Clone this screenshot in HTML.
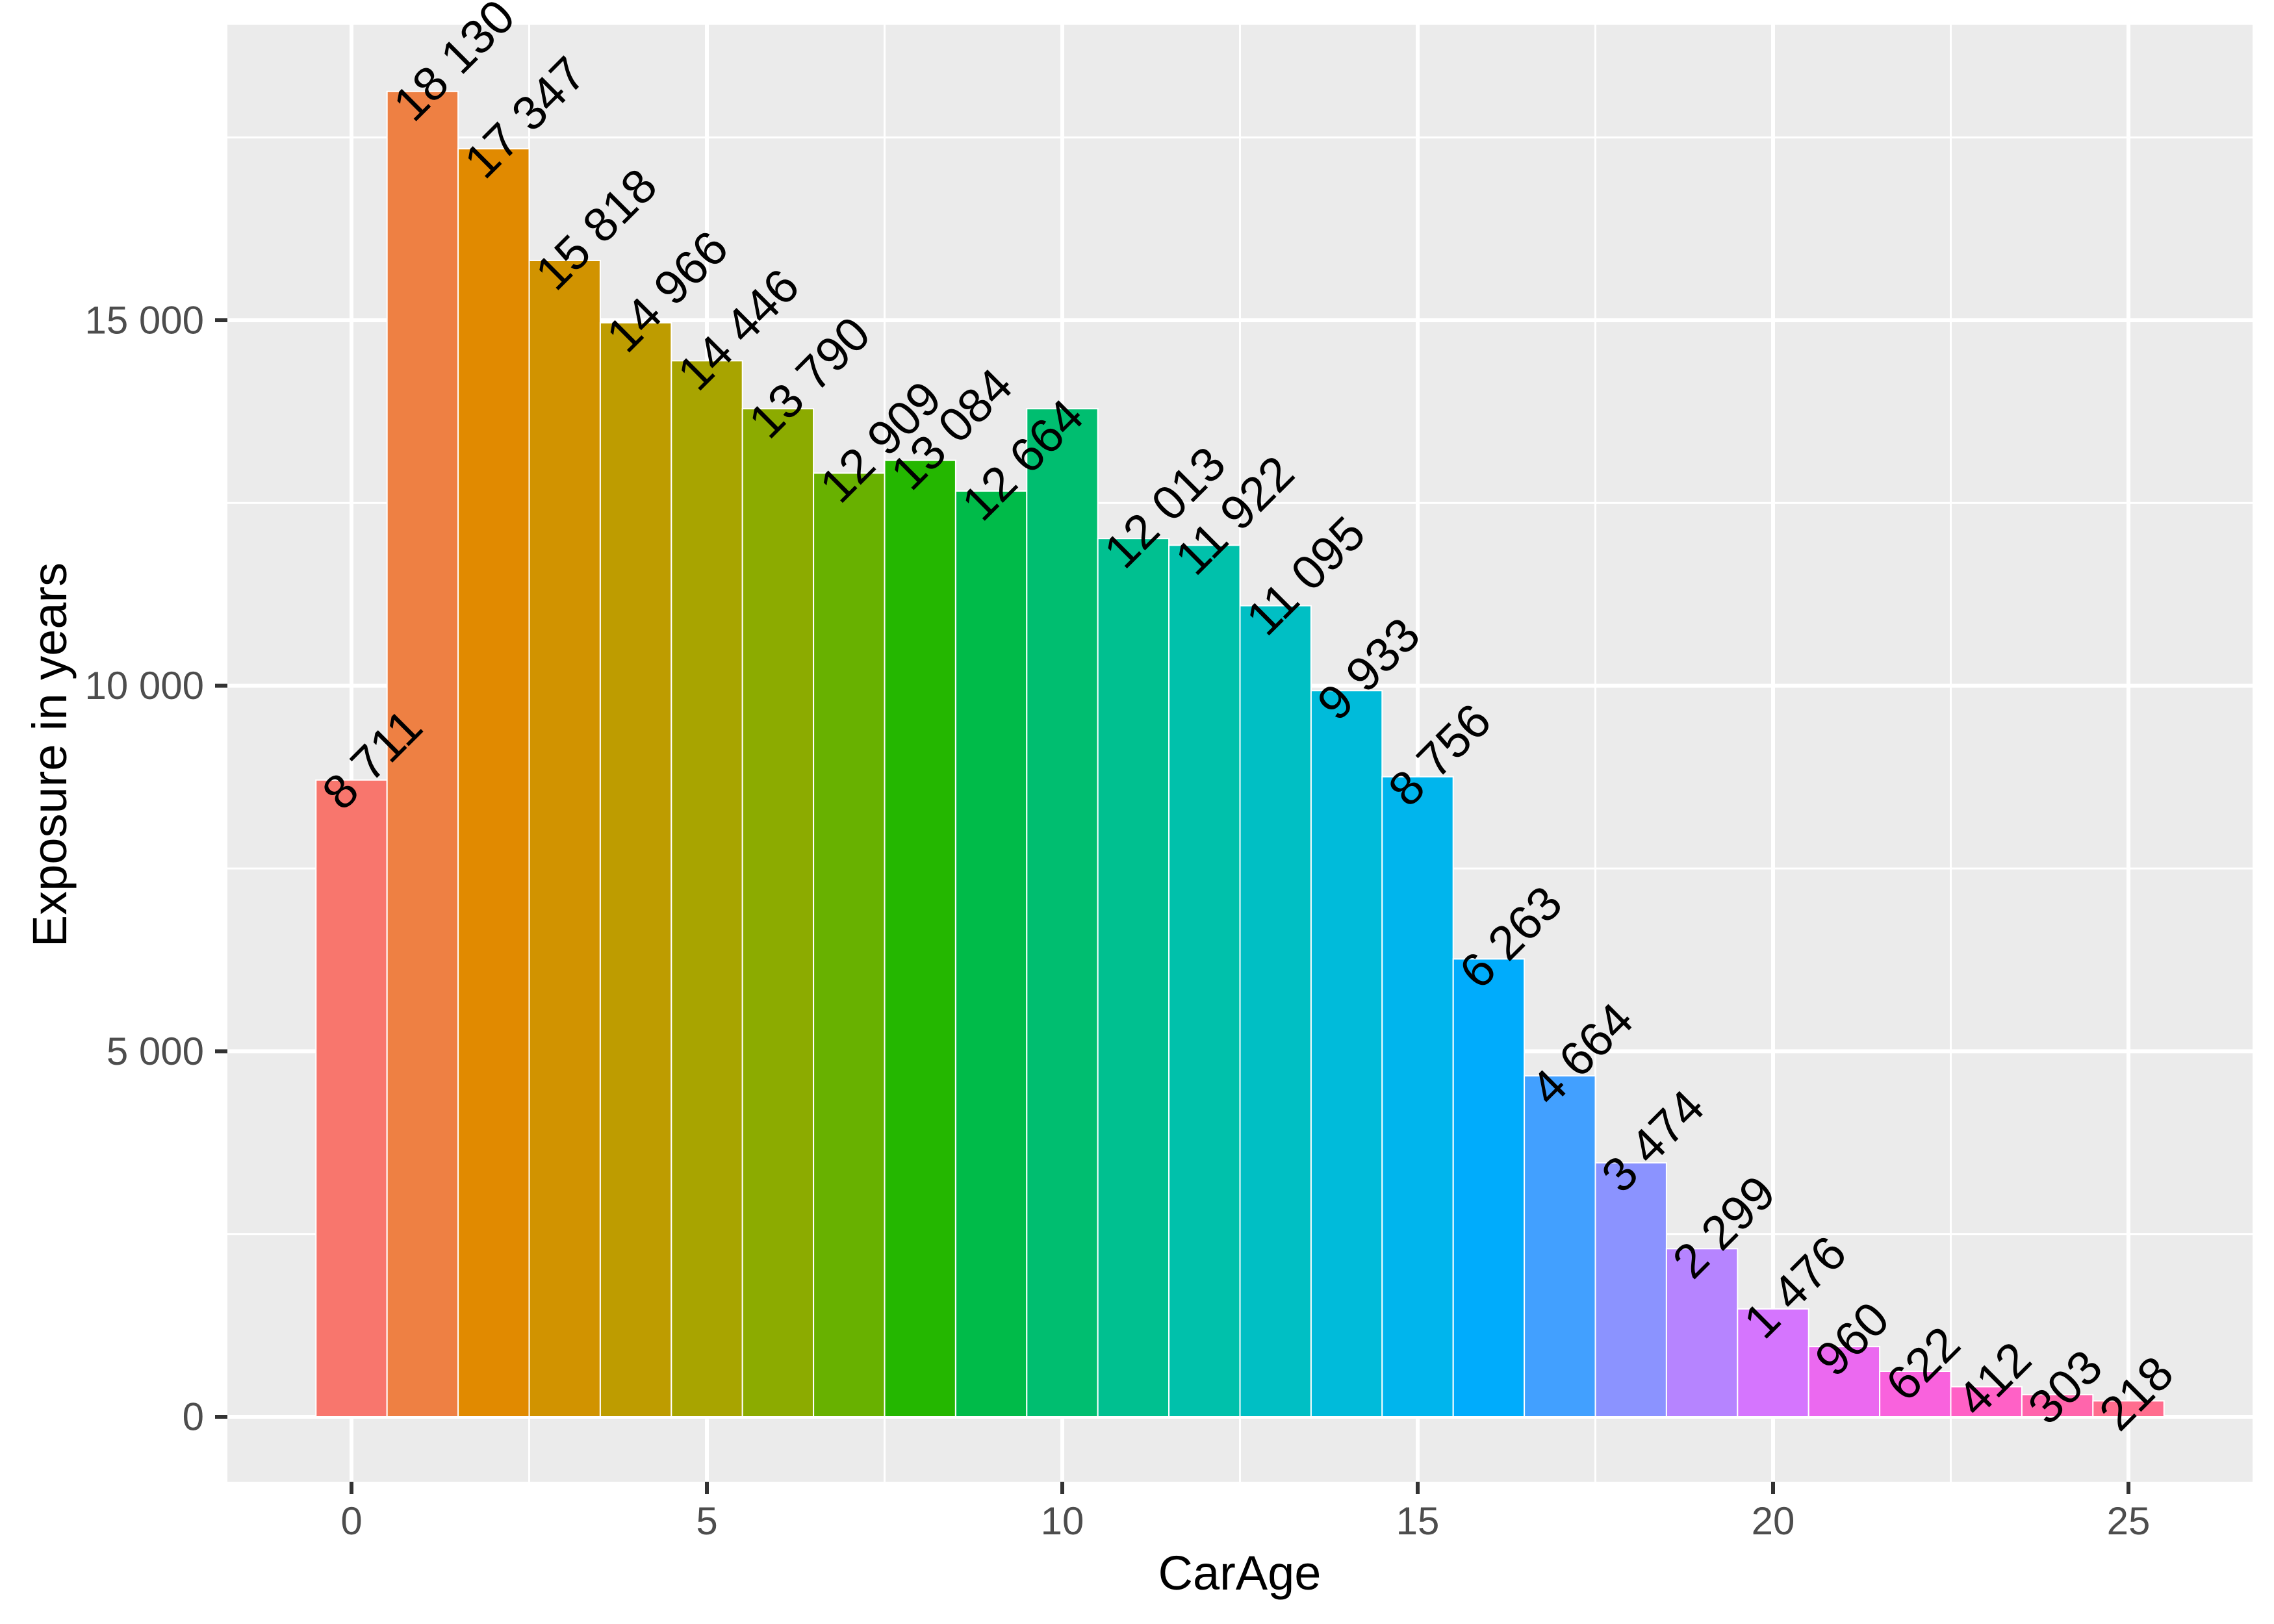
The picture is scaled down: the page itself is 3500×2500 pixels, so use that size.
<!DOCTYPE html>
<html><head><meta charset="utf-8"><style>
html,body{margin:0;padding:0;background:#fff;}
svg{display:block;font-family:"Liberation Sans",Arial,sans-serif;}
</style></head><body>
<svg id="chart" width="3500" height="2500" viewBox="0 0 3500 2500" xmlns="http://www.w3.org/2000/svg">
<rect x="0" y="0" width="3500" height="2500" fill="#ffffff"/>
<rect x="350" y="38" width="3117" height="2243" fill="#ebebeb"/>
<g id="grid"></g><g id="bars"></g><g id="labels"></g><g id="axes"></g>
<text x="1908" y="2447" font-size="74" text-anchor="middle" fill="#000">CarAge</text>
<text x="0" y="0" font-size="74" text-anchor="middle" fill="#000" transform="translate(102,1162) rotate(-90)">Exposure in years</text>
</svg>
<script>
const categories = [0,1,2,3,4,5,6,7,8,9,10,11,12,13,14,15,16,17,18,19,20,21,22,23,24,25];
const exposure = [8711,18130,17347,15818,14966,14446,13790,12909,13084,12664,13790,12013,11922,11095,9933,8756,6263,4664,3474,2299,1476,960,622,412,303,218];
const valueLabels = ["8 711","18 130","17 347","15 818","14 966","14 446","13 790","12 909","13 084","12 664","","12 013","11 922","11 095","9 933","8 756","6 263","4 664","3 474","2 299","1 476","960","622","412","303","218"];
const yTicks = [0,5000,10000,15000];
const yTickLabels = ["0","5 000","10 000","15 000"];
const yMinor = [2500,7500,12500,17500];
const xTicks = [0,5,10,15,20,25];
const xMinor = [2.5,7.5,12.5,17.5,22.5];

const PL=350, PR=3467, PT=38, PB=2281;
const xs = v => 541 + v*(3276-541)/25;
const ys = v => 2181 - v*(2181-493)/15000;
const NS="http://www.w3.org/2000/svg";
function mk(tag, attrs, parent){const e=document.createElementNS(NS,tag);for(const k in attrs)e.setAttribute(k,attrs[k]);parent.appendChild(e);return e;}

function hcl(h,c,l){
  const hr=h*Math.PI/180, L=l, u0=c*Math.cos(hr), v0=c*Math.sin(hr);
  const Xn=95.047,Yn=100,Zn=108.883;
  const un=4*Xn/(Xn+15*Yn+3*Zn), vn=9*Yn/(Xn+15*Yn+3*Zn);
  const Y = L>8 ? Yn*Math.pow((L+16)/116,3) : Yn*L/903.3;
  const u=u0/(13*L)+un, v=v0/(13*L)+vn;
  const X=9*Y*u/(4*v), Z=-X/3-5*Y+3*Y/v;
  const x=X/100,y=Y/100,z=Z/100;
  let r=3.2406*x-1.5372*y-0.4986*z, g=-0.9689*x+1.8758*y+0.0415*z, b=0.0557*x-0.2040*y+1.0570*z;
  const gm=t=>{t=t<=0.0031308?12.92*t:1.055*Math.pow(t,1/2.4)-0.055;return Math.round(Math.max(0,Math.min(1,t))*255);};
  return `rgb(${gm(r)},${gm(g)},${gm(b)})`;
}

const grid=document.getElementById('grid');
yMinor.forEach(v=>{const l=mk('line',{x1:PL,x2:PR,y1:ys(v),y2:ys(v),stroke:'#fff','stroke-width':3},grid);

});
xMinor.forEach(v=>{const l=mk('line',{x1:xs(v),x2:xs(v),y1:PT,y2:PB,stroke:'#fff','stroke-width':3},grid);

});
yTicks.forEach(v=>{const l=mk('line',{x1:PL,x2:PR,y1:ys(v),y2:ys(v),stroke:'#fff','stroke-width':6},grid);

});
xTicks.forEach(v=>{const l=mk('line',{x1:xs(v),x2:xs(v),y1:PT,y2:PB,stroke:'#fff','stroke-width':6},grid);

});

const bars=document.getElementById('bars'), labels=document.getElementById('labels');
const n=categories.length;
categories.forEach((c,i)=>{
  const col=hcl(15+360*i/n,100,65);
  const x0=xs(c-0.5), x1=xs(c+0.5), y=ys(exposure[i]);
  const r=mk('rect',{x:x0,y:y,width:x1-x0,height:ys(0)-y,fill:col,stroke:'#fff','stroke-width':2},bars);
  
  
  const ax=xs(c), ay=y;
  const t=mk('text',{x:0,y:0,'font-size':74,fill:'#000','dominant-baseline':'central',transform:`translate(${ax},${ay}) rotate(-45) translate(-45,0)`},labels);
  t.textContent=valueLabels[i];
  
  
});

const axes=document.getElementById('axes');
yTicks.forEach((v,i)=>{
  const l=mk('line',{x1:PL-19,x2:PL,y1:ys(v),y2:ys(v),stroke:'#333','stroke-width':6},axes);
  
  
  const t=mk('text',{x:PL-36,y:ys(v),'font-size':60,fill:'#4d4d4d','text-anchor':'end','dominant-baseline':'central'},axes);
  t.textContent=yTickLabels[i];
  
  
});
xTicks.forEach(v=>{
  const l=mk('line',{x1:xs(v),x2:xs(v),y1:PB,y2:PB+19,stroke:'#333','stroke-width':6},axes);
  
  
  const t=mk('text',{x:xs(v),y:2362,'font-size':60,fill:'#4d4d4d','text-anchor':'middle'},axes);
  t.textContent=String(v);
  
  
});
</script>
</body></html>
